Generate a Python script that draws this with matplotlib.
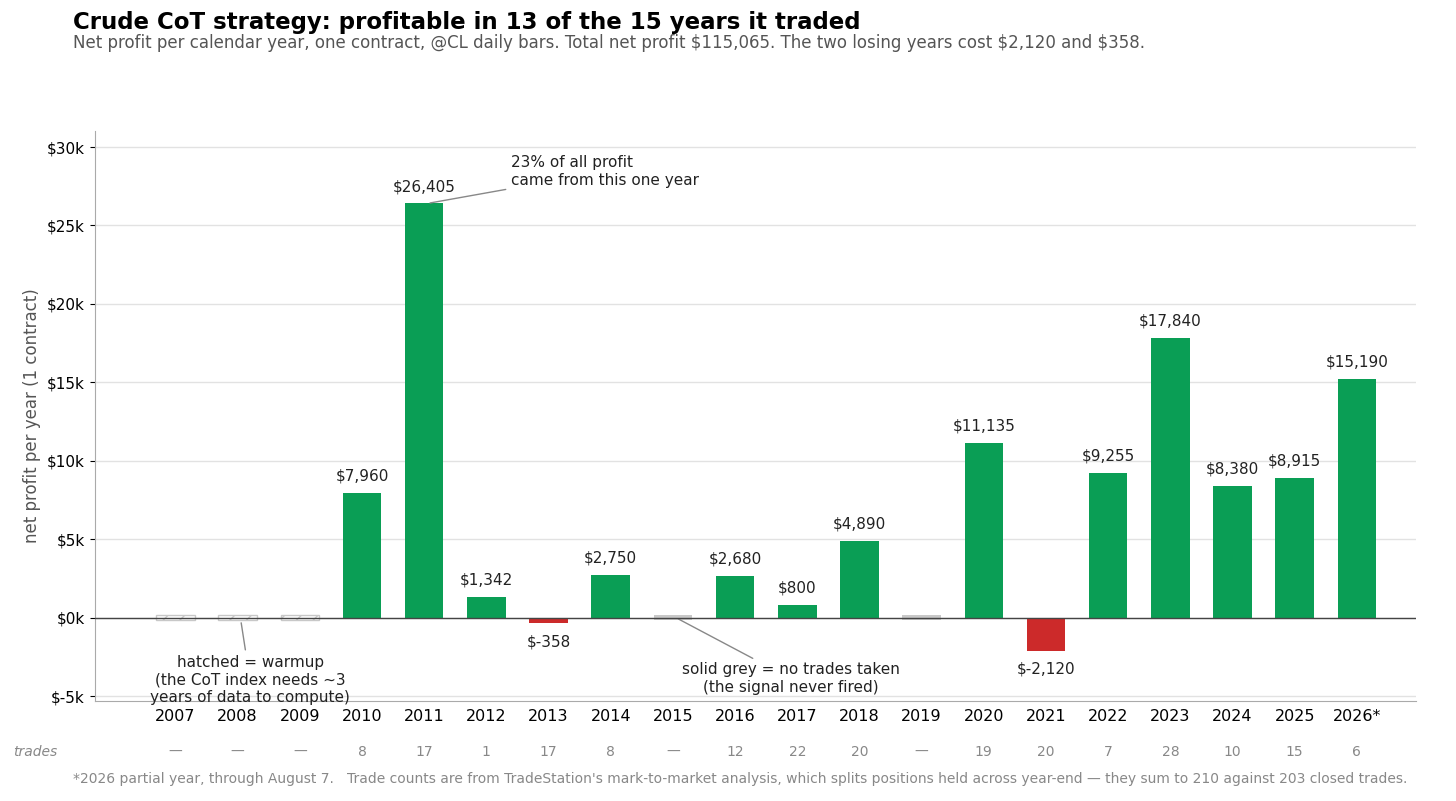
import matplotlib

matplotlib.use("Agg")

import matplotlib.pyplot as plt
import numpy as np

years = ["2007", "2008", "2009", "2010", "2011", "2012", "2013", "2014", "2015", "2016",
         "2017", "2018", "2019", "2020", "2021", "2022", "2023", "2024", "2025", "2026*"]
profit = [None, None, None, 7960, 26405, 1342, -358, 2750, None, 2680,
          800, 4890, None, 11135, -2120, 9255, 17840, 8380, 8915, 15190]
status = ["warmup", "warmup", "warmup", "ok", "ok", "ok", "ok", "ok", "none", "ok",
          "ok", "ok", "none", "ok", "ok", "ok", "ok", "ok", "ok", "ok"]
trades = ["—", "—", "—", "8", "17", "1", "17", "8", "—", "12",
          "22", "20", "—", "19", "20", "7", "28", "10", "15", "6"]

GREEN = "#0a9e55"
RED = "#cc2a2a"

fig = plt.figure(figsize=(14.56, 8.01), dpi=100)
ax = fig.add_axes([0.065, 0.125, 0.9075, 0.711])
x = np.arange(len(years))

for i, (v, s) in enumerate(zip(profit, status)):
    if s == "warmup":
        ax.bar(i, 300, bottom=-150, width=0.62, color="white", edgecolor="#c8c8c8",
               hatch="//", linewidth=1.0, zorder=3)
    elif s == "none":
        ax.bar(i, 300, bottom=-150, width=0.62, color="#c8c8c8", zorder=3)
    else:
        ax.bar(i, v, width=0.62, color=GREEN if v >= 0 else RED, zorder=3)
        if v >= 0:
            ax.text(i, v + 600, f"${v:,}", ha="center", va="bottom", fontsize=11, color="#222")
        else:
            ax.text(i, v - 700, f"${v:,}", ha="center", va="top", fontsize=11, color="#222")

ax.axhline(0, color="#444", linewidth=1.0, zorder=4)
ax.set_ylim(-5300, 31000)
ax.set_xlim(-1.3, len(years) - 0.05)
ax.set_yticks(range(-5000, 30001, 5000))
ax.set_yticklabels([f"${t // 1000}k" for t in range(-5000, 30001, 5000)], fontsize=11)
ax.set_xticks(x)
ax.set_xticklabels(years, fontsize=11.5)
ax.tick_params(axis="x", length=0, pad=6)
ax.grid(axis="y", color="#e2e2e2", linewidth=1.0, zorder=0)
ax.set_axisbelow(True)
for sp in ["top", "right"]:
    ax.spines[sp].set_visible(False)
for sp in ["left", "bottom"]:
    ax.spines[sp].set_color("#aaaaaa")
ax.set_ylabel("net profit per year (1 contract)", fontsize=12, color="#555")

ax.annotate("23% of all profit\ncame from this one year", xy=(4.05, 26405), xytext=(5.4, 27400),
            fontsize=11, color="#222", ha="left", va="bottom",
            arrowprops=dict(arrowstyle="-", color="#888", lw=1))
ax.annotate("hatched = warmup\n(the CoT index needs ~3\nyears of data to compute)",
            xy=(1.05, -150), xytext=(1.2, -2400), fontsize=11, color="#222",
            ha="center", va="top", arrowprops=dict(arrowstyle="-", color="#888", lw=1))
ax.annotate("solid grey = no trades taken\n(the signal never fired)",
            xy=(8.05, 0), xytext=(9.9, -2850), fontsize=11, color="#222",
            ha="center", va="top", arrowprops=dict(arrowstyle="-", color="#888", lw=1))

for i, t in enumerate(trades):
    ax.text(i, -0.09, t, transform=ax.get_xaxis_transform(), ha="center", va="center",
            fontsize=10, color="#888")
fig.text(0.009, 0.061, "trades", fontsize=10, color="#888", style="italic", va="center")

fig.text(0.05, 0.972, "Crude CoT strategy: profitable in 13 of the 15 years it traded",
         fontsize=16.5, fontweight="bold", va="center")
fig.text(0.05, 0.946, "Net profit per calendar year, one contract, @CL daily bars. Total net profit $115,065. "
         "The two losing years cost $2,120 and $358.", fontsize=12, color="#555", va="center")
fig.text(0.05, 0.027, "*2026 partial year, through August 7.   Trade counts are from TradeStation's "
         "mark-to-market analysis, which splits positions held across year-end — they sum to 210 "
         "against 203 closed trades.", fontsize=10, color="#888", va="center")

fig.savefig("out.png", dpi=100)
